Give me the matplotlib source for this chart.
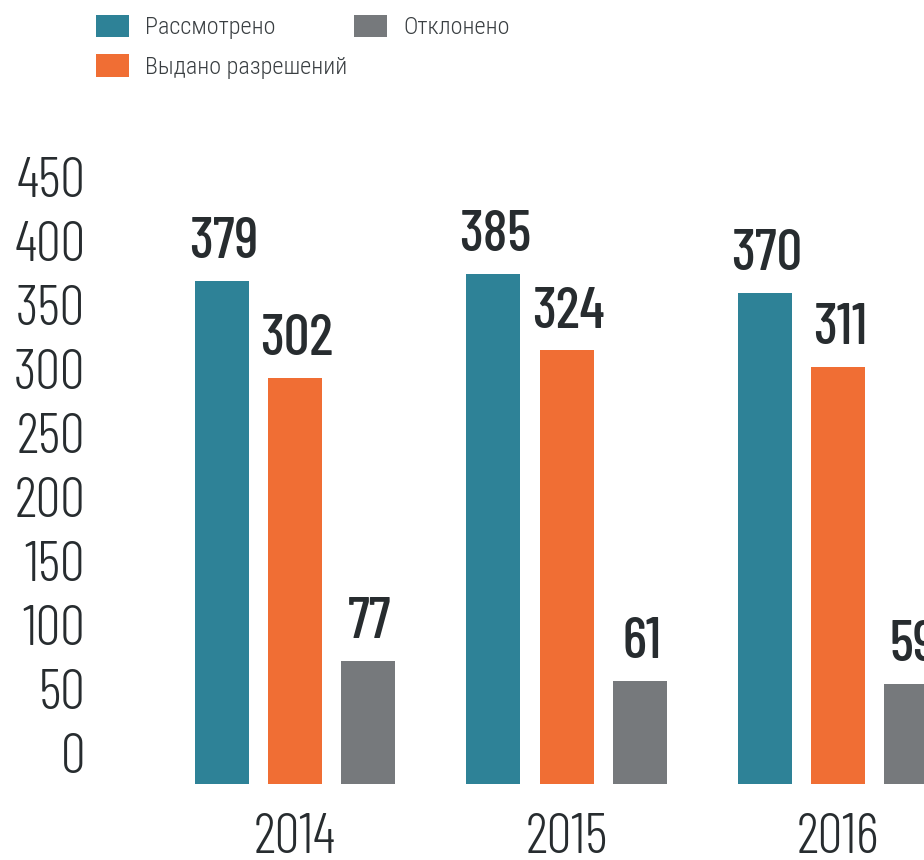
import matplotlib
matplotlib.use("Agg")
import matplotlib.pyplot as plt
from matplotlib.patches import Patch
import numpy as np

# ---- data ----
years = ["2014", "2015", "2016"]
series_names = ["Рассмотрено", "Выдано разрешений", "Отклонено"]
reviewed = [379, 385, 370]
granted = [302, 324, 311]
rejected = [77, 61, 59]
y_ticks = [0, 50, 100, 150, 200, 250, 300, 350, 400, 450]

# ---- style ----
colors = ["#2e8297", "#f06e34", "#76797c"]
text_dark = "#272c2f"
legend_text = "#3a3f42"
DIGITS = ["Barlow Condensed", "Roboto Condensed", "DejaVu Sans"]
WORDS = ["Roboto Condensed", "DejaVu Sans"]

W, H = 924, 860
fig = plt.figure(figsize=(W / 100, H / 100), dpi=100)


def px_rect(l, t, r, b):
    return [l / W, 1 - b / H, (r - l) / W, (b - t) / H]


L, T, R, B = 120, 100, 1010, 783.7
GROUP_PX = 271.5
X0 = 295
BASE = -20.4
YPX = 1.258

# axis carrying the left value scale
ax_t = fig.add_axes(px_rect(L, T, R, B))
ax_t.patch.set_visible(False)
ax_t.set_ylim(-24.0, -24.0 + (B - T) / 1.279)
ax_t.set_xticks([])
ax_t.set_yticks(y_ticks)
ax_t.set_yticklabels([str(t) for t in y_ticks], family=DIGITS, fontweight=300,
                     fontsize=40, color=text_dark)
ax_t.tick_params(axis="y", length=0, pad=25)
for s in ax_t.spines.values():
    s.set_visible(False)

# axis carrying the bars
ax = fig.add_axes(px_rect(L, T, R, B))
ax.patch.set_visible(False)
ax.set_xlim((L - X0) / GROUP_PX, (R - X0) / GROUP_PX)
ax.set_ylim(BASE, BASE + (B - T) / YPX)
for s in ax.spines.values():
    s.set_visible(False)
ax.set_yticks([])

step = 73 / GROUP_PX
width = 54 / GROUP_PX
x = np.arange(len(years))
for i, (vals, c) in enumerate(zip([reviewed, granted, rejected], colors)):
    xs = x + (i - 1) * step
    v = np.array(vals)
    ax.bar(xs, v - BASE, bottom=BASE, width=width, color=c, linewidth=0)
    for xi, vi in zip(xs, v):
        ax.annotate(str(vi), (xi, vi), xytext=(1.5, 16.5), textcoords="offset points",
                    ha="center", va="baseline", fontsize=41, fontweight=500,
                    family=DIGITS, color=text_dark)

ax.set_xticks(x)
ax.set_xticklabels(years, family=DIGITS, fontweight=300, fontsize=40, color=text_dark)
ax.tick_params(axis="x", length=0, pad=21)

# legend
handles = [Patch(facecolor=c, edgecolor="none") for c in colors]
leg_kw = dict(frameon=False, loc="upper left", borderpad=0, borderaxespad=0,
              handlelength=1.36, handleheight=1.03, handletextpad=0.66,
              labelspacing=0.62, labelcolor=legend_text,
              prop=dict(family=WORDS, weight=300, size=17.5))
fig.legend(handles[:2], series_names[:2], bbox_to_anchor=(96 / W, 1 - 15 / H), **leg_kw)
fig.legend(handles[2:], series_names[2:], bbox_to_anchor=(354 / W, 1 - 15 / H), **leg_kw)

fig.savefig("out.png", dpi=100)
